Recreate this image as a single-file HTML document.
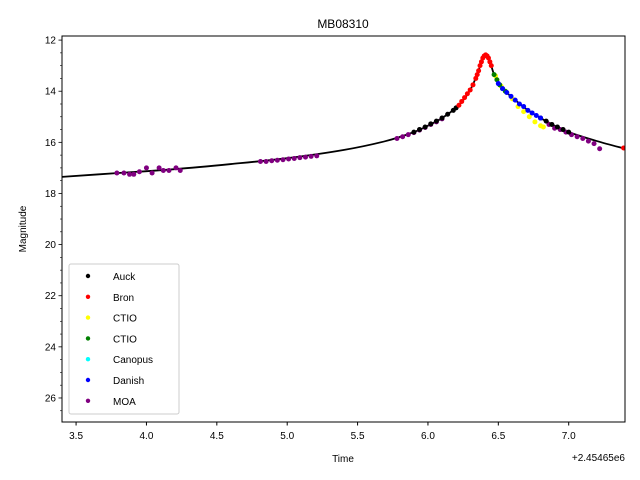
<!DOCTYPE html>
<html><head><meta charset="utf-8"><style>
body{margin:0;background:#fff;}
svg{display:block;font-family:"Liberation Sans","DejaVu Sans",sans-serif;}
</style></head><body>
<svg id="chart" width="640" height="480"></svg>
<script>
const xTicks=[3.5,4.0,4.5,5.0,5.5,6.0,6.5,7.0];
const xTickLabels=["3.5","4.0","4.5","5.0","5.5","6.0","6.5","7.0"];
const yTicks=[12,14,16,18,20,22,24,26];
const modelT=[3.4,3.8,4.2,4.6,5.0,5.4,5.7,5.9,6.0,6.1,6.2,6.25,6.3,6.35,6.38,6.41,6.44,6.47,6.5,6.55,6.6,6.7,6.8,6.9,7.0,7.2,7.4];
const modelM=[17.35,17.2,17.05,16.85,16.62,16.3,15.95,15.6,15.35,15.05,14.65,14.35,13.95,13.35,12.85,12.58,12.85,13.35,13.65,14.0,14.25,14.7,15.05,15.35,15.6,15.95,16.25];
const moaT=[3.79,3.84,3.88,3.91,3.95,4.0,4.04,4.09,4.12,4.16,4.21,4.24,4.81,4.85,4.89,4.93,4.97,5.01,5.05,5.09,5.13,5.17,5.21,5.78,5.82,5.86,5.9,5.94,5.98,6.02,6.06,6.1,6.86,6.9,6.94,6.98,7.02,7.06,7.1,7.14,7.18,7.22];
const moaM=[17.2,17.2,17.25,17.25,17.15,17.0,17.2,17.0,17.1,17.1,17.0,17.1,16.75,16.75,16.72,16.7,16.68,16.65,16.63,16.6,16.58,16.55,16.53,15.85,15.78,15.7,15.62,15.52,15.42,15.3,15.2,15.08,15.3,15.45,15.5,15.6,15.7,15.78,15.85,15.95,16.05,16.25];
const auckT=[5.9,5.94,5.98,6.02,6.06,6.1,6.14,6.18,6.2,6.8,6.84,6.88,6.92,6.96,7.0];
const auckM=[15.6,15.5,15.4,15.28,15.17,15.05,14.9,14.75,14.65,15.05,15.17,15.3,15.4,15.5,15.6];
const bronT=[6.22,6.24,6.26,6.28,6.3,6.32,6.34,6.35,6.36,6.37,6.38,6.39,6.4,6.41,6.42,6.43,6.44,6.45,7.39];
const bronM=[14.55,14.4,14.25,14.1,13.95,13.75,13.5,13.35,13.2,13.0,12.85,12.7,12.62,12.58,12.62,12.7,12.85,13.0,16.22];
const ctioYT=[6.48,6.52,6.56,6.6,6.64,6.68,6.72,6.76,6.8,6.82];
const ctioYM=[13.4,13.8,14.05,14.3,14.6,14.8,15.0,15.2,15.35,15.4];
const ctioGT=[6.47,6.49,6.51,6.53,6.55];
const ctioGM=[13.35,13.55,13.75,13.9,14.0];
const danT=[6.5,6.53,6.56,6.59,6.62,6.65,6.68,6.71,6.74,6.77,6.8];
const danM=[13.7,13.9,14.05,14.2,14.35,14.5,14.6,14.75,14.85,14.95,15.05];
const L=62,R=625,T=36,B=422,X0=3.40,X1=7.40,Y0=11.84,Y1=26.94;
const sx=t=>L+(t-X0)/(X1-X0)*(R-L);
const sy=m=>T+(m-Y0)/(Y1-Y0)*(B-T);
const svg=document.getElementById('chart');
const NS='http://www.w3.org/2000/svg';
function mk(tag,attrs,parent){const e=document.createElementNS(NS,tag);for(const k in attrs)e.setAttribute(k,attrs[k]);(parent||svg).appendChild(e);return e;}
const clip=mk('clipPath',{id:'c'});mk('rect',{x:L,y:T,width:R-L,height:B-T},clip);
// model line (monotone-ish catmull-rom)
let d='';
const P=modelT.map((t,i)=>[sx(t),sy(modelM[i])]);
d='M'+P[0][0]+','+P[0][1];
for(let i=0;i<P.length-1;i++){const p0=P[i-1]||P[i],p1=P[i],p2=P[i+1],p3=P[i+2]||P[i+1];
 const c1=[p1[0]+(p2[0]-p0[0])/6,p1[1]+(p2[1]-p0[1])/6],c2=[p2[0]-(p3[0]-p1[0])/6,p2[1]-(p3[1]-p1[1])/6];
 d+=` C${c1[0]},${c1[1]} ${c2[0]},${c2[1]} ${p2[0]},${p2[1]}`;}
const ml=mk('path',{d:d,fill:'none',stroke:'#000','stroke-width':1.8,'clip-path':'url(#c)'});


const series=[['moa',moaT,moaM,'purple'],['auck',auckT,auckM,'black'],['bron',bronT,bronM,'red'],['ctio-yellow',ctioYT,ctioYM,'yellow'],['ctio-green',ctioGT,ctioGM,'green'],['danish',danT,danM,'blue']];
series.forEach(([n,ts,ms,c])=>{const g=mk('g',{'clip-path':'url(#c)'});
 
 
 ts.forEach((t,i)=>{const p=mk('circle',{cx:sx(t),cy:sy(ms[i]),r:2.5,fill:c},g);
 
 });});
// frame
const fr=mk('rect',{x:L,y:T,width:R-L,height:B-T,fill:'none',stroke:'#000','stroke-width':1});


xTicks.forEach((t,i)=>{const x=sx(t);mk('line',{x1:x,x2:x,y1:B,y2:B+3.5,stroke:'#000'});
 const tx=mk('text',{x:x,y:B+17,'font-size':10,'text-anchor':'middle'});tx.textContent=xTickLabels[i];
 
 });
for(let m=12;m<=26.9;m+=0.5){const y=sy(m);const major=Math.abs(m-Math.round(m/2)*2)<1e-6;
 mk('line',{x1:L-(major?3.5:2),x2:L,y1:y,y2:y,stroke:'#000','stroke-width':major?0.8:0.6});}
yTicks.forEach(m=>{const tx=mk('text',{x:L-6,y:sy(m)+3.5,'font-size':10,'text-anchor':'end'});tx.textContent=m;
 
 });
const off=mk('text',{x:625,y:461,'font-size':10,'text-anchor':'end'});off.textContent='+2.45465e6';


const xt=mk('text',{x:343,y:462,'font-size':10,'text-anchor':'middle'});xt.textContent='Time';


const yt=mk('text',{x:0,y:0,'font-size':10,'text-anchor':'middle',transform:`translate(26,229) rotate(-90)`});yt.textContent='Magnitude';


const ti=mk('text',{x:343,y:28,'font-size':12,'text-anchor':'middle'});ti.textContent='MB08310';


// legend
const lg=mk('g',{});


mk('rect',{x:69,y:264,width:110,height:150,rx:2,fill:'#fff',stroke:'#ccc'},lg);
const legNames=['Auck','Bron','CTIO','CTIO','Canopus','Danish','MOA'];
const legColors=['black','red','yellow','green','cyan','blue','purple'];
legNames.forEach((n,i)=>{const y=276+i*20.8;
 const e=mk('g',{},lg);
 
 
 mk('circle',{cx:88,cy:y,r:2.2,fill:legColors[i]},e);
 const t=mk('text',{x:113,y:y+4,'font-size':10},e);t.textContent=n;});
</script>
</body></html>
